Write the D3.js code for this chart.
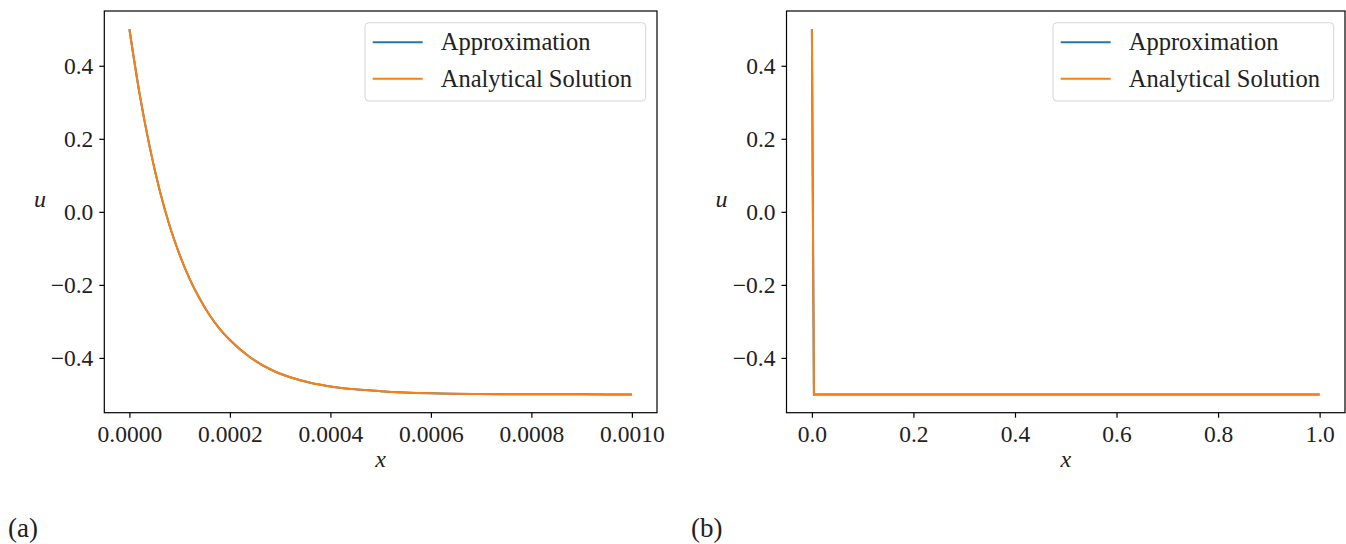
<!DOCTYPE html>
<html>
<head>
<meta charset="utf-8">
<script src="https://cdn.jsdelivr.net/npm/d3@7"></script>
<style>
  html, body { margin: 0; padding: 0; background: #fff; }
  svg { display: block; }
  text { font-family: 'Liberation Serif', serif; fill: #222; }
</style>
</head>
<body>
<svg id="chart" width="1346" height="544"></svg>
<script>
// ---- Data ----
const seriesNames = ["Approximation", "Analytical Solution"];
const seriesColors = ["#1f77b4", "#ff7f0e"];

// Panel (a): zoom of boundary layer
const xA = [0, 0.00002, 0.00004, 0.00006, 0.00008, 0.0001, 0.00012, 0.00014, 0.00016, 0.00018,
            0.0002, 0.00024, 0.00028, 0.00032, 0.00036, 0.0004, 0.00045, 0.0005, 0.0006, 0.0007,
            0.0008, 0.0009, 0.001];
const uA_approx = [0.5, 0.325, 0.180, 0.060, -0.038, -0.118, -0.184, -0.238, -0.284, -0.321,
                   -0.351, -0.398, -0.431, -0.453, -0.468, -0.478, -0.486, -0.491, -0.497, -0.499,
                   -0.4995, -0.4998, -0.4999];
const uA_exact  = [0.5, 0.325, 0.180, 0.060, -0.038, -0.118, -0.184, -0.238, -0.284, -0.321,
                   -0.351, -0.398, -0.431, -0.453, -0.468, -0.478, -0.486, -0.491, -0.497, -0.499,
                   -0.4995, -0.4998, -0.4999];

// Panel (b): full domain
const xB = [0, 0.004, 0.25, 0.5, 0.75, 1.0];
const uB_approx = [0.5, -0.5, -0.5, -0.5, -0.5, -0.5];
const uB_exact  = [0.5, -0.5, -0.5, -0.5, -0.5, -0.5];

const xTicksA = [0, 0.0002, 0.0004, 0.0006, 0.0008, 0.0010];
const xTicksB = [0, 0.2, 0.4, 0.6, 0.8, 1.0];
const yTicks = [-0.4, -0.2, 0.0, 0.2, 0.4];
const panelLabels = ["(a)", "(b)"];

// ---- Drawing ----
const svg = d3.select("#chart");
const fmtY = v => (v < 0 ? "\u2212" : "") + Math.abs(v).toFixed(1);

const panels = [
  { x: xA, ys: [uA_approx, uA_exact], xDomain: [-0.00005, 0.00105], xRange: [104.3, 657],
    xTicks: xTicksA, fmtX: v => v.toFixed(4), yLabelX: 40, label: panelLabels[0], labelX: 8,
    curve: d3.curveMonotoneX },
  { x: xB, ys: [uB_approx, uB_exact], xDomain: [-0.05, 1.05], xRange: [786.5, 1345],
    xTicks: xTicksB, fmtX: v => v.toFixed(1), yLabelX: 721.5, label: panelLabels[1], labelX: 691,
    curve: d3.curveLinear }
];

const axTop = 11, axBottom = 412.7;

panels.forEach(p => {
  const x = d3.scaleLinear().domain(p.xDomain).range(p.xRange);
  const y = d3.scaleLinear().domain([-0.55, 0.55]).range([axBottom, axTop]);
  const g = svg.append("g");

  // lines
  const line = d3.line().x((d, i) => x(p.x[i])).y(d => y(d)).curve(p.curve);
  p.ys.forEach((ser, si) => {
    g.append("path").datum(ser)
      .attr("fill", "none")
      .attr("stroke", seriesColors[si])
      .attr("stroke-width", 2)
      .attr("stroke-linejoin", "miter")
      .attr("d", line);
  });

  // axes
  const xAxis = d3.axisBottom(x).tickValues(p.xTicks).tickFormat(p.fmtX).tickSize(5).tickSizeOuter(0).tickPadding(6);
  const yAxis = d3.axisLeft(y).tickValues(yTicks).tickFormat(fmtY).tickSize(5).tickSizeOuter(0).tickPadding(6);
  const gx = g.append("g").attr("transform", `translate(0,${axBottom})`).call(xAxis);
  const gy = g.append("g").attr("transform", `translate(${p.xRange[0]},0)`).call(yAxis);
  [gx, gy].forEach(a => {
    a.select(".domain").remove();
    a.selectAll(".tick line").attr("stroke", "#000").attr("stroke-width", 1.2);
    a.selectAll(".tick text").style("font-family", "'Liberation Serif', serif")
      .style("font-size", "23.5px").attr("fill", "#222");
  });
  gx.selectAll(".tick text").attr("dy", "0.78em");
  gy.selectAll(".tick text").attr("dy", "0.33em");

  // frame
  g.append("rect")
    .attr("x", p.xRange[0]).attr("y", axTop)
    .attr("width", p.xRange[1] - p.xRange[0]).attr("height", axBottom - axTop)
    .attr("fill", "none").attr("stroke", "#000").attr("stroke-width", 1.2);

  // axis labels
  g.append("text").attr("x", p.yLabelX).attr("y", 207).attr("text-anchor", "middle")
    .style("font-style", "italic").style("font-size", "24px").text("u");
  const xm = (p.xRange[0] + p.xRange[1]) / 2;
  g.append("text").attr("x", xm).attr("y", 467).attr("text-anchor", "middle")
    .style("font-style", "italic").style("font-size", "24px").text("x");

  // legend
  const lx = p.xRange[1] - 292, ly = 22.7, lw = 280.7, lh = 78.3;
  g.append("rect").attr("x", lx).attr("y", ly).attr("width", lw).attr("height", lh)
    .attr("rx", 4).attr("ry", 4).attr("fill", "#fff").attr("fill-opacity", 0.8)
    .attr("stroke", "#d6d6d6").attr("stroke-width", 1);
  seriesNames.forEach((name, i) => {
    const yy = 42.3 + i * 36.4;
    g.append("line").attr("x1", lx + 7.7).attr("x2", lx + 57.7).attr("y1", yy).attr("y2", yy)
      .attr("stroke", seriesColors[i]).attr("stroke-width", 2);
    g.append("text").attr("x", lx + 75.7).attr("y", yy).attr("dy", "0.33em")
      .style("font-size", "24.5px").text(name);
  });

  // panel label
  svg.append("text").attr("x", p.labelX).attr("y", 537)
    .style("font-family", "'Liberation Serif', serif")
    .style("font-size", "27px").attr("fill", "#000").text(p.label);
});
</script>
</body>
</html>
